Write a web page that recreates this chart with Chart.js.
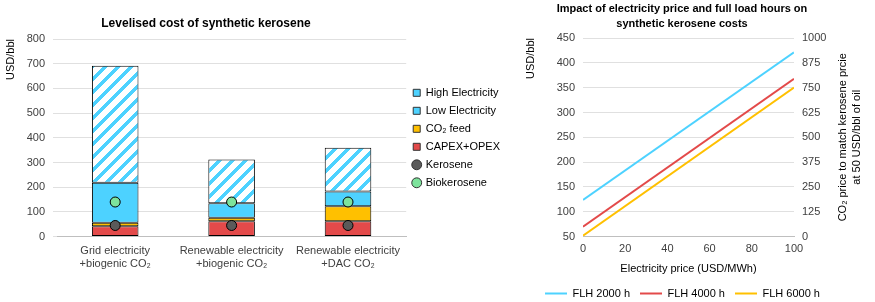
<!DOCTYPE html>
<html>
<head>
<meta charset="utf-8">
<script src="https://cdn.jsdelivr.net/npm/chart.js@4.4.0/dist/chart.umd.min.js"></script>
<style>
  body { margin: 0; background: #fff; }
  #wrap { position: relative; width: 875px; height: 302px; }
  #left { position: absolute; left: 0; top: 0; }
  #right { position: absolute; left: 520px; top: 0; }
</style>
</head>
<body>
<div id="wrap">
  <canvas id="left" width="520" height="302"></canvas>
  <canvas id="right" width="355" height="302"></canvas>
</div>
<script>
// left chart data
const routes = [['Grid electricity', '+biogenic CO₂'], ['Renewable electricity', '+biogenic CO₂'], ['Renewable electricity', '+DAC CO₂']];
const capexOpex = [42, 62, 62];
const co2Feed = [14, 14, 61];
const lowElec = [162, 59, 60];
const highElec = [474, 177, 177];
const kerosene = [45, 45, 45];
const biokerosene = [140, 140, 140];

// right chart data
const elecPrice = [0, 100];
const flh2000 = [124, 421];
const flh4000 = [70, 368];
const flh6000 = [52, 350];
const co2Ticks = [0, 125, 250, 375, 500, 625, 750, 875, 1000];

const BLUE = '#4dd2ff', RED = '#e34a4a', ORANGE = '#ffc000', GREEN = '#7de39c', GREY = '#5a5a5a';
const txt = '#404040';
const FONT = '"Liberation Sans", Arial, sans-serif';
Chart.defaults.font.family = FONT;
Chart.defaults.font.size = 11;
Chart.defaults.color = txt;
Chart.defaults.animation = false;

// white tile with blue "/" stripes
function hatch() {
  const n = 13;
  const c = document.createElement('canvas');
  c.width = n; c.height = n;
  const g = c.getContext('2d');
  g.fillStyle = '#fff';
  g.fillRect(0, 0, n, n);
  g.fillStyle = BLUE;
  for (let x = 0; x < n; x++)
    for (let y = 0; y < n; y++)
      if ((x + y) % n < 5) g.fillRect(x, y, 1, 1);
  return g.createPattern(c, 'repeat');
}

// draws bold titles and a rotated axis title at given spots
const textAt = {
  id: 'textAt',
  afterDraw(chart, args, opts) {
    const ctx = chart.ctx;
    ctx.save();
    ctx.textAlign = 'center';
    ctx.textBaseline = 'middle';
    ctx.fillStyle = '#000';
    ctx.font = 'bold ' + opts.size + 'px ' + FONT;
    opts.lines.forEach((l, i) => ctx.fillText(l, opts.x, opts.y + i * opts.lh));
    if (opts.side) {
      const a = chart.chartArea;
      ctx.font = '11px ' + FONT;
      ctx.translate(opts.side.x, (a.top + a.bottom) / 2);
      ctx.rotate(-Math.PI / 2);
      opts.side.lines.forEach((l, i) => ctx.fillText(l, 0, i * 14));
    }
    ctx.restore();
  }
};

const legendOrder = ['High Electricity', 'Low Electricity', 'CO₂ feed', 'CAPEX+OPEX', 'Kerosene', 'Biokerosene'];

new Chart(document.getElementById('left'), {
  type: 'bar',
  plugins: [textAt],
  data: {
    labels: routes,
    datasets: [
      { label: 'CAPEX+OPEX', data: capexOpex, backgroundColor: RED },
      { label: 'CO₂ feed', data: co2Feed, backgroundColor: ORANGE },
      { label: 'Low Electricity', data: lowElec, backgroundColor: BLUE },
      { label: 'High Electricity', data: highElec, backgroundColor: hatch() },
      { type: 'line', label: 'Kerosene', data: kerosene, stack: 'k', pointBackgroundColor: GREY, backgroundColor: GREY },
      { type: 'line', label: 'Biokerosene', data: biokerosene, stack: 'b', pointBackgroundColor: GREEN, backgroundColor: GREEN }
    ].map(d => d.type
      ? Object.assign(d, { order: 0, showLine: false, pointRadius: 5, borderColor: '#000', borderWidth: 1, pointStyle: 'circle' })
      : Object.assign(d, { order: 1, stack: 's', pointStyle: 'rect', borderColor: '#000', borderWidth: 1, borderSkipped: false, barPercentage: 0.4, categoryPercentage: 1 }))
  },
  options: {
    responsive: false,
    layout: { padding: { top: 39, right: 10, left: 0, bottom: 31 } },
    plugins: {
      textAt: { lines: ['Levelised cost of synthetic kerosene'], x: 206, y: 24, lh: 14, size: 12 },
      tooltip: { enabled: false },
      legend: {
        position: 'right',
        fullSize: false,
        labels: {
          usePointStyle: true, boxWidth: 7, boxHeight: 7, padding: 7, color: '#000',
          generateLabels(chart) {
            const items = Chart.defaults.plugins.legend.labels.generateLabels(chart);
            items.forEach(it => {
              if (it.text === 'High Electricity') it.fillStyle = BLUE;
              it.strokeStyle = '#333';
              it.lineWidth = 1;
            });
            return items;
          },
          sort: (a, b) => legendOrder.indexOf(a.text) - legendOrder.indexOf(b.text)
        }
      }
    },
    scales: {
      x: {
        stacked: true,
        grid: { display: false },
        border: { color: '#bfbfbf' },
        ticks: { color: txt, maxRotation: 0, padding: 0 }
      },
      y: {
        stacked: true,
        min: 0, max: 800,
        ticks: { stepSize: 100, color: txt, padding: 8 },
        grid: { color: '#e0e0e0', tickLength: 4, tickColor: '#e0e0e0' },
        border: { display: false },
        title: { display: true, text: 'USD/bbl', align: 'end', color: '#000', padding: { bottom: 4 } },
        afterFit: s => { s.width = 57; }
      }
    }
  }
});

new Chart(document.getElementById('right'), {
  type: 'line',
  plugins: [textAt],
  data: {
    datasets: [
      { label: 'FLH 2000 h', data: elecPrice.map((x, i) => ({ x, y: flh2000[i] })), borderColor: BLUE, backgroundColor: BLUE },
      { label: 'FLH 4000 h', data: elecPrice.map((x, i) => ({ x, y: flh4000[i] })), borderColor: RED, backgroundColor: RED },
      { label: 'FLH 6000 h', data: elecPrice.map((x, i) => ({ x, y: flh6000[i] })), borderColor: ORANGE, backgroundColor: ORANGE }
    ].map(d => Object.assign(d, { borderWidth: 2, pointRadius: 0, pointStyle: 'line' }))
  },
  options: {
    responsive: false,
    layout: { padding: { top: 38, right: 30, left: 0, bottom: -7 } },
    plugins: {
      textAt: {
        lines: ['Impact of electricity price and full load hours on', 'synthetic kerosene costs'], x: 162, y: 9, lh: 15, size: 11,
        side: { x: 323, lines: ['CO₂ price to match kerosene prcie', 'at 50 USD/bbl of oil'] }
      },
      tooltip: { enabled: false },
      legend: {
        position: 'bottom',
        labels: { usePointStyle: true, pointStyleWidth: 22, boxHeight: 2, padding: 10, color: '#000' }
      }
    },
    scales: {
      x: {
        type: 'linear', min: 0, max: 100,
        ticks: { stepSize: 20, color: txt, padding: 6 },
        grid: { display: false, drawTicks: false },
        border: { color: '#bfbfbf' },
        title: { display: true, text: 'Electricity price (USD/MWh)', color: '#000', padding: { top: 1, bottom: 2 } }
      },
      y: {
        min: 50, max: 450,
        ticks: { stepSize: 50, color: txt, padding: 8 },
        grid: { color: '#e0e0e0', drawTicks: false },
        border: { display: false },
        title: { display: true, text: 'USD/bbl', align: 'end', color: '#000', padding: { bottom: 10 } },
        afterFit: s => { s.width = 63; }
      },
      y2: {
        position: 'right',
        min: 0, max: 1000,
        afterBuildTicks: s => { s.ticks = co2Ticks.map(v => ({ value: v })); },
        ticks: { color: txt, padding: 8, callback: v => String(v) },
        grid: { display: false, drawTicks: false },
        border: { display: false },
        afterFit: s => { s.width = 51; }
      }
    }
  }
});
</script>
</body>
</html>
